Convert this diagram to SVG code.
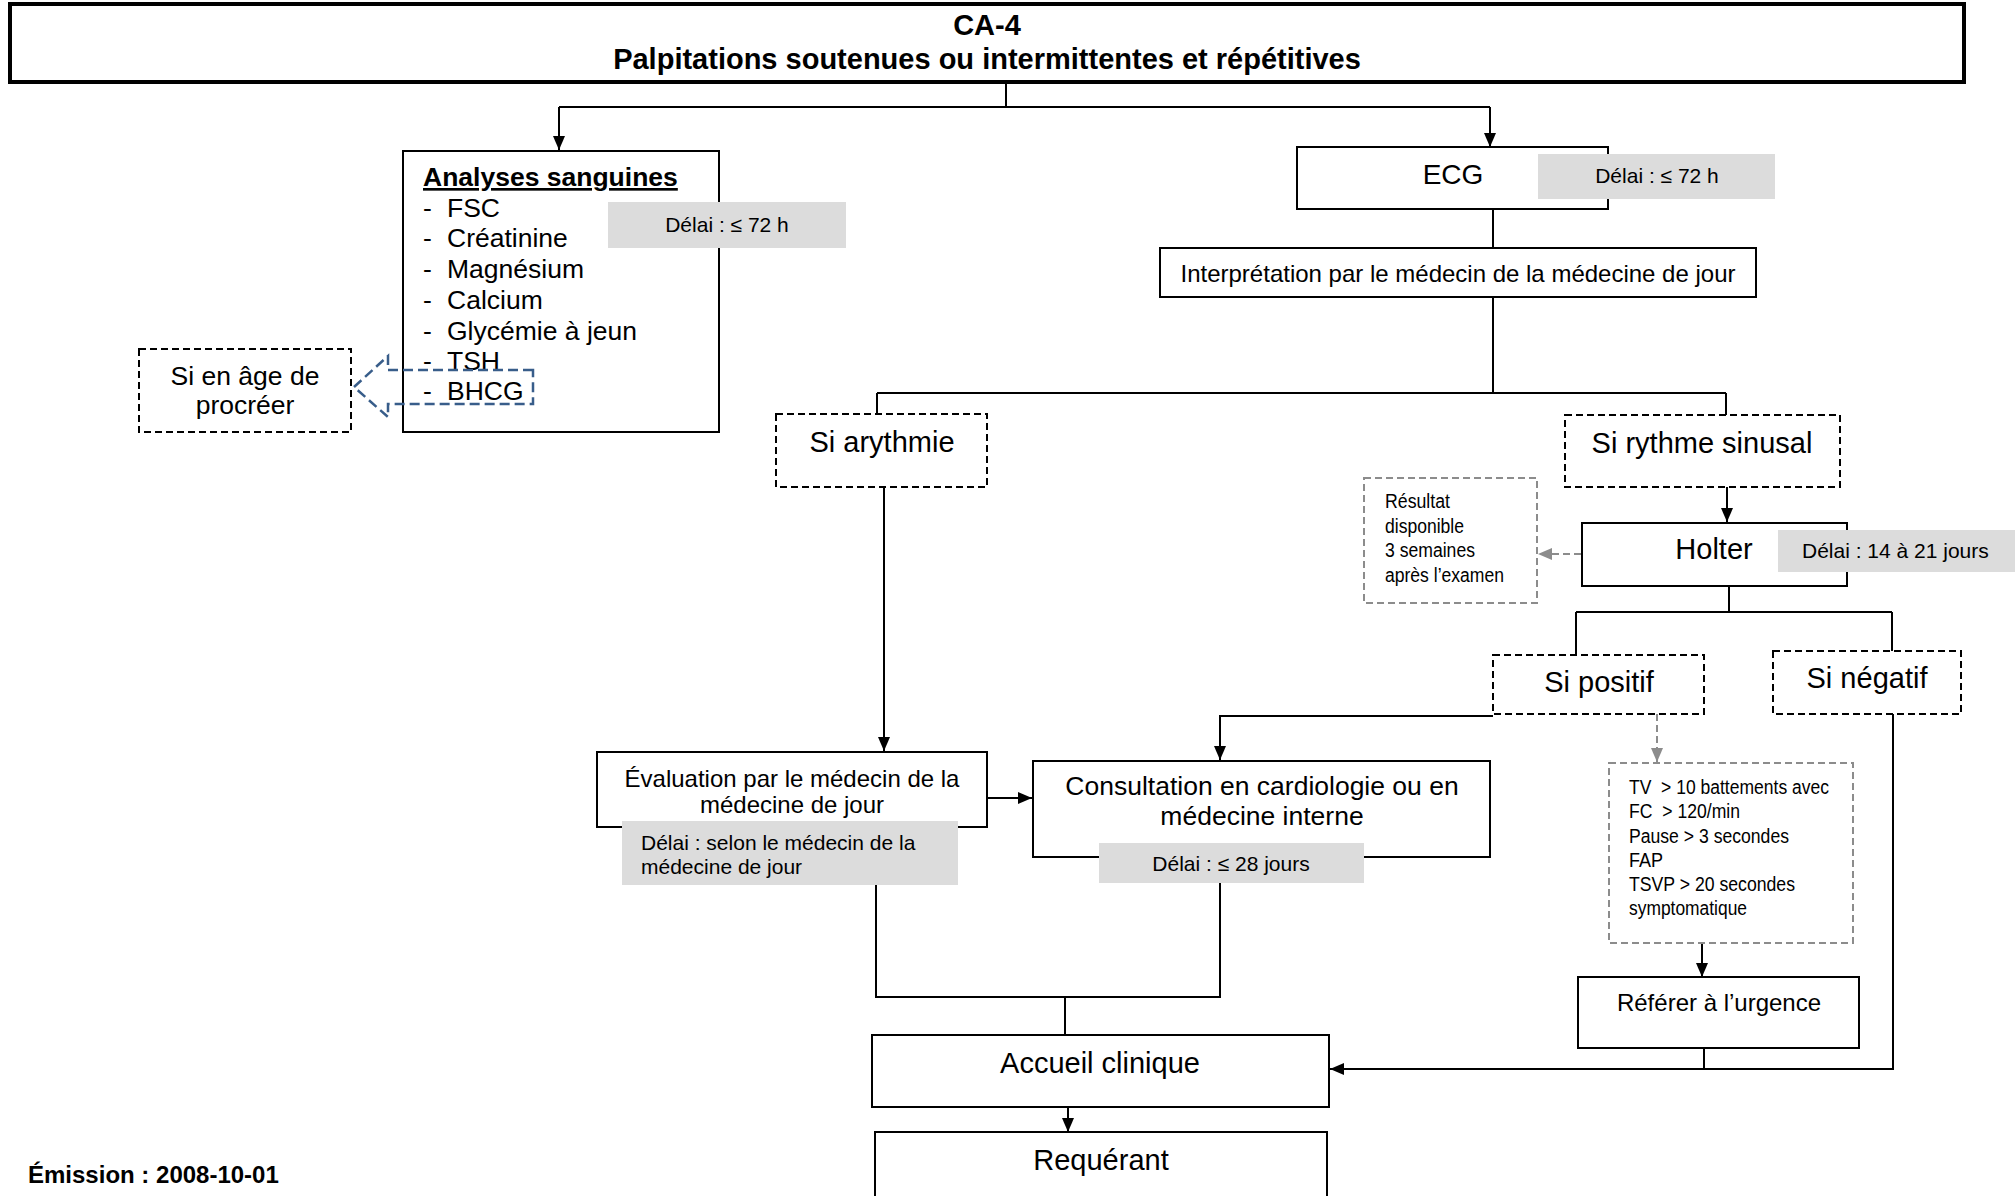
<svg xmlns="http://www.w3.org/2000/svg" width="2015" height="1196" viewBox="0 0 2015 1196">
<style>
text{font-family:"Liberation Sans",Arial,sans-serif;fill:#000}
.box{fill:#fff;stroke:#000;stroke-width:2}
.dbox{fill:#fff;stroke:#000;stroke-width:2;stroke-dasharray:7 4}
.gdbox{fill:#fff;stroke:#8c8c8c;stroke-width:2;stroke-dasharray:7 4}
.gray{fill:#dcdcdc}
.ln{fill:none;stroke:#000;stroke-width:2}
.gln{fill:none;stroke:#8c8c8c;stroke-width:2;stroke-dasharray:7 4}
.big{font-size:29px}
.mid{font-size:26.5px}
.med{font-size:24px}
.del{font-size:21px}
.sm{font-size:19.5px}
.c{text-anchor:middle}
.b{font-weight:bold}
</style>
<defs>
<marker id="ah" markerUnits="userSpaceOnUse" markerWidth="14" markerHeight="12" refX="14" refY="6" orient="auto">
<path d="M0,0 L14,6 L0,12 Z" fill="#000"/>
</marker>
<marker id="gah" markerUnits="userSpaceOnUse" markerWidth="14" markerHeight="12" refX="14" refY="6" orient="auto">
<path d="M0,0 L14,6 L0,12 Z" fill="#8c8c8c"/>
</marker>
</defs>
<rect width="2015" height="1196" fill="#fff"/>

<g id="connectors">
<path class="ln" d="M1006,82 V107 M559,107 H1490"/>
<path class="ln" d="M559,107 V150" marker-end="url(#ah)"/>
<path class="ln" d="M1490,107 V147" marker-end="url(#ah)"/>
<path class="ln" d="M1493,209 V248"/>
<path class="ln" d="M1493,297 V393 M877,393 H1726 M877,393 V414 M1726,393 V415"/>
<path class="ln" d="M884,487 V751" marker-end="url(#ah)"/>
<path class="ln" d="M1727,487 V522" marker-end="url(#ah)"/>
<path class="gln" d="M1581,554 H1538" marker-end="url(#gah)"/>
<path class="ln" d="M1729,587 V612 M1576,612 H1892 M1576,612 V655 M1892,612 V651"/>
<path class="ln" d="M1493,716 H1220 V760" marker-end="url(#ah)"/>
<path class="gln" d="M1657,714 V762" marker-end="url(#gah)"/>
<path class="ln" d="M1702,943 V977" marker-end="url(#ah)"/>
<path class="ln" d="M1704,1048 V1069 M1893,714 V1069 H1330" marker-end="url(#ah)"/>
<path class="ln" d="M987,798 H1032" marker-end="url(#ah)"/>
<path class="ln" d="M876,885 V997 H1220 V883 M1065,997 V1035"/>
<path class="ln" d="M1068,1107 V1132" marker-end="url(#ah)"/>
</g>

<g id="title">
<rect x="10" y="4" width="1954" height="78" fill="#fff" stroke="#000" stroke-width="4"/>
<text class="big b c" x="987" y="35">CA-4</text>
<text class="big b c" x="987" y="69">Palpitations soutenues ou intermittentes et répétitives</text>
</g>

<g id="analyses">
<rect class="box" x="403" y="151" width="316" height="281"/>
<text class="mid b" x="423" y="186" text-decoration="underline">Analyses sanguines</text>
<g class="mid">
<text x="423" y="217">-</text><text x="447" y="217">FSC</text>
<text x="423" y="247">-</text><text x="447" y="247">Créatinine</text>
<text x="423" y="278">-</text><text x="447" y="278">Magnésium</text>
<text x="423" y="309">-</text><text x="447" y="309">Calcium</text>
<text x="423" y="340">-</text><text x="447" y="340">Glycémie à jeun</text>
<text x="423" y="370">-</text><text x="447" y="370">TSH</text>
<text x="423" y="400">-</text><text x="447" y="400">BHCG</text>
</g>
<rect class="gray" x="608" y="202" width="238" height="46"/>
<text class="del c" x="727" y="232">Délai : ≤ 72 h</text>
</g>

<g id="bhcg-arrow">
<path d="M533,370 H388 V356 L354,387 L388,417 V404 H533 Z" fill="none" stroke="#385d8a" stroke-width="2.5" stroke-dasharray="10 5"/>
</g>

<g id="age">
<rect class="dbox" x="139" y="349" width="212" height="83"/>
<text class="mid c" x="245" y="385">Si en âge de</text>
<text class="mid c" x="245" y="414">procréer</text>
</g>

<g id="ecg">
<rect class="box" x="1297" y="147" width="311" height="62"/>
<text class="c" style="font-size:28px" x="1453" y="184">ECG</text>
<rect class="gray" x="1538" y="154" width="237" height="45"/>
<text class="del c" x="1657" y="183">Délai : ≤ 72 h</text>
</g>

<g id="interpretation">
<rect class="box" x="1160" y="248" width="596" height="49"/>
<text class="med c" x="1458" y="282">Interprétation par le médecin de la médecine de jour</text>
</g>

<g id="arythmie">
<rect class="dbox" x="776" y="414" width="211" height="73"/>
<text class="big c" x="882" y="452">Si arythmie</text>
</g>

<g id="sinusal">
<rect class="dbox" x="1565" y="415" width="275" height="72"/>
<text class="big c" x="1702" y="453">Si rythme sinusal</text>
</g>

<g id="resultat">
<rect class="gdbox" x="1364" y="478" width="173" height="125"/>
<text class="sm" x="1385" y="508" textLength="65" lengthAdjust="spacingAndGlyphs">Résultat</text>
<text class="sm" x="1385" y="533" textLength="79" lengthAdjust="spacingAndGlyphs">disponible</text>
<text class="sm" x="1385" y="557" textLength="90" lengthAdjust="spacingAndGlyphs">3 semaines</text>
<text class="sm" x="1385" y="582" textLength="119" lengthAdjust="spacingAndGlyphs">après l’examen</text>
</g>

<g id="holter">
<rect class="box" x="1582" y="523" width="265" height="63"/>
<text class="big c" x="1714" y="559">Holter</text>
<rect class="gray" x="1778" y="530" width="245" height="42"/>
<text class="del" x="1802" y="558">Délai : 14 à 21 jours</text>
</g>

<g id="positif">
<rect class="dbox" x="1493" y="655" width="211" height="59"/>
<text class="big c" x="1599" y="692">Si positif</text>
</g>

<g id="negatif">
<rect class="dbox" x="1773" y="651" width="188" height="63"/>
<text class="big c" x="1867" y="688">Si négatif</text>
</g>

<g id="criteres">
<rect class="gdbox" x="1609" y="763" width="244" height="180"/>
<text class="sm" x="1629" y="794" xml:space="preserve" textLength="200" lengthAdjust="spacingAndGlyphs">TV  &gt; 10 battements avec</text>
<text class="sm" x="1629" y="818" xml:space="preserve" textLength="111" lengthAdjust="spacingAndGlyphs">FC  &gt; 120/min</text>
<text class="sm" x="1629" y="843" textLength="160" lengthAdjust="spacingAndGlyphs">Pause &gt; 3 secondes</text>
<text class="sm" x="1629" y="867" textLength="34" lengthAdjust="spacingAndGlyphs">FAP</text>
<text class="sm" x="1629" y="891" textLength="166" lengthAdjust="spacingAndGlyphs">TSVP &gt; 20 secondes</text>
<text class="sm" x="1629" y="915" textLength="118" lengthAdjust="spacingAndGlyphs">symptomatique</text>
</g>

<g id="urgence">
<rect class="box" x="1578" y="977" width="281" height="71"/>
<text class="med c" x="1719" y="1011">Référer à l’urgence</text>
</g>

<g id="evaluation">
<rect class="box" x="597" y="752" width="390" height="75"/>
<text class="med c" x="792" y="787">Évaluation par le médecin de la</text>
<text class="med c" x="792" y="813">médecine de jour</text>
<rect class="gray" x="622" y="821" width="336" height="64"/>
<text class="del" x="641" y="850">Délai : selon le médecin de la</text>
<text class="del" x="641" y="874">médecine de jour</text>
</g>

<g id="consultation">
<rect class="box" x="1033" y="761" width="457" height="96"/>
<text class="mid c" x="1262" y="795">Consultation en cardiologie ou en</text>
<text class="mid c" x="1262" y="825">médecine interne</text>
<rect class="gray" x="1099" y="843" width="265" height="40"/>
<text class="del c" x="1231" y="871">Délai : ≤ 28 jours</text>
</g>

<g id="accueil">
<rect class="box" x="872" y="1035" width="457" height="72"/>
<text class="big c" x="1100" y="1073">Accueil clinique</text>
</g>

<g id="requerant">
<rect class="box" x="875" y="1132" width="452" height="90"/>
<text class="big c" x="1101" y="1170">Requérant</text>
</g>

<text class="b" style="font-size:24px" x="28" y="1183">Émission : 2008-10-01</text>
</svg>
